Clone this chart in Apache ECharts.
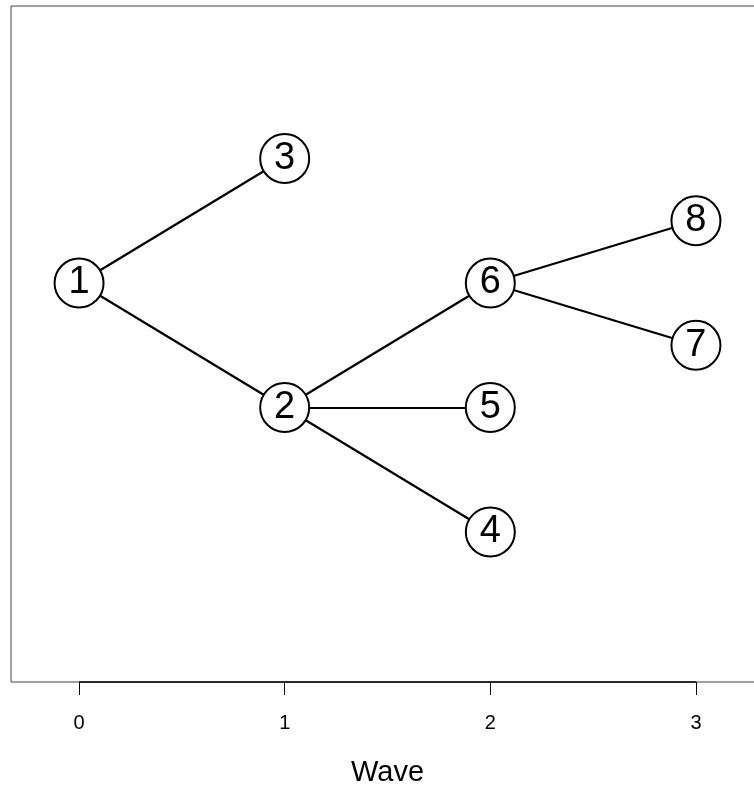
<!DOCTYPE html>
<html>
<head>
<meta charset="utf-8">
<script src="https://cdn.jsdelivr.net/npm/echarts@6/dist/echarts.min.js"></script>
<style>
html,body{margin:0;padding:0;background:#fff;}
#chart{width:754px;height:792px;}
</style>
</head>
<body>
<div id="chart"></div>
<script>
// Node data (node i has label nodeLabels[i])
const nodeLabels = ['1','2','3','4','5','6','7','8'];
const nodeWave = [0, 1, 1, 2, 2, 2, 3, 3];
const nodePos = [0, -1, 1, -2, -1, 0, -0.5, 0.5];
// Edges (by node label)
const edgeFrom = ['1','1','2','2','2','6','6'];
const edgeTo   = ['3','2','6','5','4','8','7'];
// Axis ticks
const waveTicks = [0, 1, 2, 3];

const xMin = -0.331, xMax = 3.331;
const yMin = -3.205, yMax = 2.225;

const chart = echarts.init(document.getElementById('chart'), null, {renderer: 'canvas'});

const nodes = nodeLabels.map((n, i) => ({name: n, value: [nodeWave[i], nodePos[i]]}));
const links = edgeFrom.map((s, i) => ({source: s, target: edgeTo[i]}));

chart.setOption({
  animation: false,
  backgroundColor: '#fff',
  grid: {left: 11, top: 6, width: 753, height: 676, show: true, borderColor: '#444', borderWidth: 1,
         backgroundColor: 'transparent', containLabel: false, outerBoundsMode: 'none'},
  xAxis: {
    type: 'value', min: xMin, max: xMax, position: 'bottom',
    axisLine: {show: false, onZero: false},
    splitLine: {show: false},
    axisTick: {show: true, customValues: waveTicks, length: 13, lineStyle: {color: '#000', width: 1}},
    axisLabel: {show: true, customValues: waveTicks, margin: 31, fontSize: 20, color: '#000', fontFamily: 'Liberation Sans'},
    name: 'Wave', nameLocation: 'middle', nameGap: 76,
    nameTextStyle: {fontSize: 29, color: '#000', fontFamily: 'Liberation Sans'}
  },
  yAxis: {
    type: 'value', min: yMin, max: yMax, show: false
  },
  series: [
    {
      type: 'line', silent: true, symbol: 'none', clip: false,
      data: [[waveTicks[0], yMin], [waveTicks[waveTicks.length - 1], yMin]],
      lineStyle: {color: '#000', width: 1.5},
      z: 3
    },
    {
      type: 'graph', coordinateSystem: 'cartesian2d', silent: true,
      symbol: 'circle', symbolSize: 49,
      itemStyle: {color: '#fff', borderColor: '#000', borderWidth: 2},
      label: {show: true, position: 'inside', formatter: '{b}', fontSize: 38, color: '#000', fontFamily: 'Liberation Sans'},
      lineStyle: {color: '#000', width: 2.2, opacity: 1, curveness: 0},
      data: nodes,
      links: links,
      z: 5
    }
  ]
});
</script>
</body>
</html>
